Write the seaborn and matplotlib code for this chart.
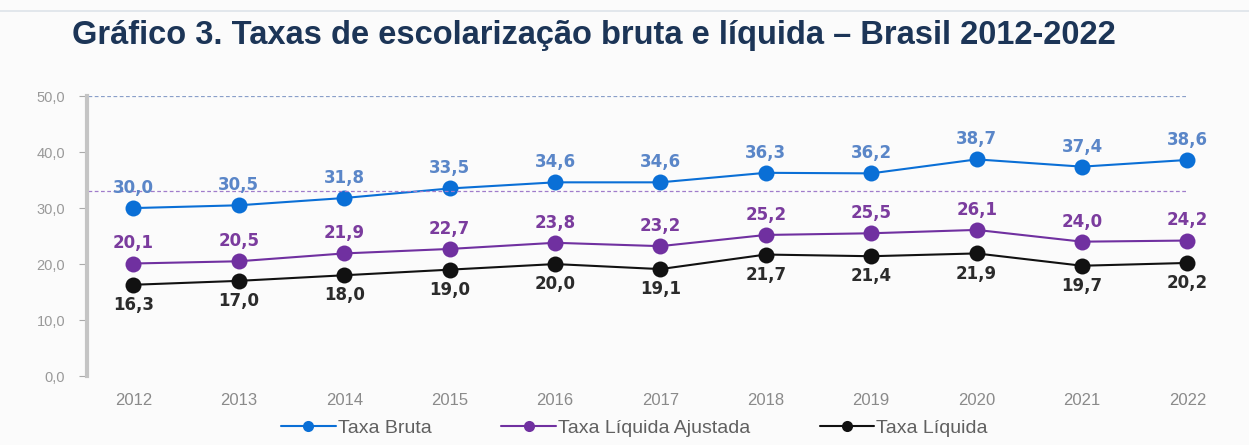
import matplotlib
matplotlib.use("Agg")
import matplotlib.pyplot as plt
import pandas as pd
import seaborn as sns
from matplotlib.lines import Line2D

years = [2012, 2013, 2014, 2015, 2016, 2017, 2018, 2019, 2020, 2021, 2022]
taxa_bruta = [30.0, 30.5, 31.8, 33.5, 34.6, 34.6, 36.3, 36.2, 38.7, 37.4, 38.6]
taxa_liq_ajust = [20.1, 20.5, 21.9, 22.7, 23.8, 23.2, 25.2, 25.5, 26.1, 24.0, 24.2]
taxa_liq = [16.3, 17.0, 18.0, 19.0, 20.0, 19.1, 21.7, 21.4, 21.9, 19.7, 20.2]
series_names = ["Taxa Bruta", "Taxa Líquida Ajustada", "Taxa Líquida"]
meta_bruta = 50.0
meta_liq = 33.0
yticks = [0, 10, 20, 30, 40, 50]

colors = {"Taxa Bruta": "#0a6fd6", "Taxa Líquida Ajustada": "#7030a0", "Taxa Líquida": "#111111"}
label_colors = {"Taxa Bruta": "#5a86c8", "Taxa Líquida Ajustada": "#7b3c9e", "Taxa Líquida": "#2b2b2b"}

df = pd.DataFrame({
    "ano": years * 3,
    "valor": taxa_bruta + taxa_liq_ajust + taxa_liq,
    "serie": [series_names[0]] * len(years) + [series_names[1]] * len(years) + [series_names[2]] * len(years),
})

sns.set_theme(style="white")
plt.rcParams["font.family"] = ["Liberation Sans", "DejaVu Sans"]

fig = plt.figure(figsize=(12.49, 4.45), dpi=100)
fig.patch.set_facecolor("#fbfbfb")
ax = fig.add_axes([0.070, 0.155, 0.89, 0.629])
ax.set_facecolor("#fbfbfb")

sns.lineplot(data=df, x="ano", y="valor", hue="serie", palette=colors, marker="o",
             markersize=11.5, markeredgewidth=0, linewidth=1.5, legend=False, ax=ax)

# metas (linhas tracejadas)
ax.hlines(meta_bruta, 2012 - 0.43, 2022, colors="#8a9fc9", linestyles=(0, (3, 2)), linewidth=0.9)
ax.hlines(meta_liq, 2012 - 0.43, 2022, colors="#a07ccb", linestyles=(0, (3, 2)), linewidth=0.9)

for name, vals, dy in [(series_names[0], taxa_bruta, 14.5),
                       (series_names[1], taxa_liq_ajust, 14.5),
                       (series_names[2], taxa_liq, -14.5)]:
    for x, v in zip(years, vals):
        ax.annotate(f"{v:.1f}".replace(".", ","), (x, v), xytext=(0, dy), textcoords="offset points",
                    ha="center", va="center", fontsize=12, fontweight="bold", color=label_colors[name],
                    family=["DejaVu Sans"])

ax.set_xlim(2012 - 0.436, 2022 + 0.11)
ax.set_ylim(0, 50)
ax.set_xticks(years)
ax.set_xticklabels([str(y) for y in years], fontsize=12, color="#8a8a8a")
ax.set_yticks(yticks)
ax.set_yticklabels([f"{t:.1f}".replace(".", ",") for t in yticks], fontsize=10.5, color="#999999")
ax.tick_params(axis="y", left=True, length=6, width=0.8, color="#aaaaaa", pad=10)
ax.tick_params(axis="x", bottom=False, pad=6)
ax.set_xlabel("")
ax.set_ylabel("")
for s in ["top", "right", "bottom"]:
    ax.spines[s].set_visible(False)
ax.spines["left"].set_color("#c4c4c4")
ax.spines["left"].set_linewidth(3)

handles = [Line2D([0], [0], color=colors[n], marker="o", markersize=8, markeredgewidth=0, linewidth=1.5)
           for n in series_names]
fig.legend(handles, series_names, loc="center", bbox_to_anchor=(0.508, 0.038), ncol=3, frameon=False,
           fontsize=14, handlelength=2.8, handletextpad=0.1, columnspacing=3.6, labelcolor="#606060")

fig.text(0.058, 0.921, "Gráfico 3. Taxas de escolarização bruta e líquida – Brasil 2012-2022",
         fontsize=23.5, fontweight="bold", color="#1c3557", va="center",
         family=["Liberation Sans", "DejaVu Sans"])
fig.add_artist(Line2D([0.0, 1.0], [0.975, 0.975], color="#dde3ea", linewidth=1.2))

fig.savefig("out.png", dpi=100, facecolor=fig.get_facecolor())
